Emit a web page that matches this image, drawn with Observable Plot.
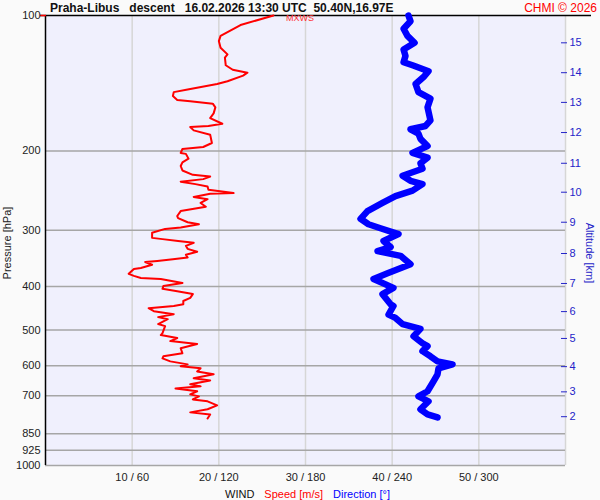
<!DOCTYPE html>
<html><head><meta charset="utf-8">
<script src="https://cdn.jsdelivr.net/npm/d3@7"></script>
<script src="https://cdn.jsdelivr.net/npm/@observablehq/plot@0.6"></script>
<style>
body{margin:0;background:#fafafa;font-family:Arial,"Liberation Sans",sans-serif;}
#wrap{position:relative;width:600px;height:500px;overflow:hidden;}
.t{position:absolute;white-space:pre;line-height:1;}
svg{position:absolute;left:0;top:0;}
</style></head><body><div id="wrap"></div>
<script>
const title = "Praha-Libus   descent   16.02.2026 13:30 UTC  50.40N,16.97E";
const credit = "CHMI © 2026";
const maxLabel = "MXWS";
const yLabel = "Pressure [hPa]";
const altLabel = "Altitude [km]";
const legendParts = ["WIND", "Speed [m/s]", "Direction [°]"];

const pressureTicks = [100,200,300,400,500,600,700,850,925,1000];
const speedTicks = [10,20,30,40,50];
const gridSpeeds = [10,20,30,40,50,60];
const dirPerSpeed = 6; // 60 m/s <-> 360 deg

const altKm = [2,3,4,5,6,7,8,9,10,11,12,13,14,15];
const altP  = [779,686,603,522,455,394,338,288,247,213,182,156,134,115];

const speedP = [100,105,111,114,118,122,124,129,132,134,136,140,142,146,148,151,154,155,157,160,165,169,174,176,177,180,184,192,196,198,202,203,208,212,216,221,226,228,231,234,237,240,244,248,249,253,256,261,266,272,279,282,288,291,296,298,304,312,314,317,320,325,330,335,340,345,348,351,353,358,364,366,375,379,383,385,393,399,405,410,416,424,431,438,442,447,454,461,468,473,485,490,508,513,521,529,537,549,563,572,578,587,596,602,608,618,627,640,647,660,667,674,684,695,702,713,720,735,750,762,770,786];
const speedV = [26.3,22.5,20.2,20.0,20.2,21.0,20.7,20.8,21.6,23.3,22.8,21.0,19.8,16.4,14.8,14.7,15.2,16.7,19.3,19.6,19.4,19.0,20.4,18.8,16.7,17.1,19.0,19.2,18.2,15.8,15.6,16.2,16.5,15.8,15.6,15.8,17.0,19.0,18.2,15.6,17.3,18.7,18.8,21.7,19.0,17.1,18.7,17.9,18.5,15.6,15.2,15.3,16.4,17.7,15.6,13.8,12.3,12.3,13.5,15.3,17.1,16.2,16.4,17.5,16.2,16.4,14.7,12.9,11.5,12.3,11.0,10.2,9.6,10.2,11.0,13.3,15.8,13.6,13.5,15.2,17.0,16.7,15.9,15.9,14.8,11.9,12.5,14.8,13.0,14.1,13.0,13.8,13.5,13.3,15.2,14.4,17.5,15.6,15.8,13.6,13.5,14.4,16.4,15.6,17.9,17.5,19.4,17.1,19.0,16.7,17.9,15.0,17.5,16.7,17.7,17.0,18.7,19.8,18.7,16.7,19.0,18.7];

const dirP = [100,103,107,111,115,119,123,127,129,133,137,142,148,153,160,171,176,179,183,188,195,202,207,213,219,227,233,237,245,252,261,272,283,291,297,306,317,327,334,342,357,374,385,403,416,438,442,462,470,485,497,516,535,543,557,572,587,596,608,627,650,684,702,720,750,770,782];
const dirV = [251.3,252.7,247.9,250.6,255.5,247.9,249.2,247.9,254.1,265.2,261.7,256.2,258.2,266.5,264.5,266.5,263.1,252.7,258.2,259.6,264.5,254.1,264.5,259.6,261.0,247.2,252.7,261.0,254.1,242.3,233.3,222.9,218.1,223.6,231.9,244.4,234.0,238.9,229.9,245.8,252.7,236.8,227.1,240.9,233.3,238.9,240.9,237.5,242.3,247.2,259.6,254.8,261.0,264.5,261.0,266.5,271.4,281.8,272.1,271.4,268.6,264.5,258.2,265.2,259.6,264.5,271.4];

const speedData = speedP.map((p,i)=>({p, v: speedV[i]}));
const dirData = dirP.map((p,i)=>({p, d: dirV[i]}));

const BLUE = "#0000ff", RED = "#ff0000", ALTC = "#2424c8";

const chart = Plot.plot({
  width: 600, height: 500,
  marginLeft: 45, marginRight: 35, marginTop: 15, marginBottom: 35,
  style: {fontFamily: "Arial, 'Liberation Sans', sans-serif", fontSize: "11px", background: "transparent", color: "#222"},
  x: {domain: [0, 60], axis: null},
  y: {type: "log", domain: [100, 1000], reverse: true, axis: null},
  marks: [
    Plot.frame({fill: "#f0f0fd", stroke: null}),
    Plot.ruleX(gridSpeeds, {stroke: "#d6d6d6", strokeWidth: 1.5}),
    Plot.ruleY(pressureTicks.slice(1), {stroke: "#a6a6a6", strokeWidth: 1.5}),
    Plot.ruleX([0], {stroke: "#000", strokeWidth: 1.5}),
    Plot.ruleY([100], {stroke: "#000", strokeWidth: 1.5, insetLeft: -5, insetRight: -26}),
    Plot.ruleY([100], {stroke: RED, strokeWidth: 1.5, insetLeft: -5, insetRight: 519}),
    Plot.line(dirData, {x: d => d.d / dirPerSpeed, y: "p", stroke: BLUE, strokeWidth: 6.5, strokeLinejoin: "round", strokeLinecap: "round"}),
    Plot.line(speedData, {x: "v", y: "p", stroke: RED, strokeWidth: 2}),
    Plot.axisY(pressureTicks, {anchor: "left", tickSize: 0, tickPadding: 5, label: null, fontSize: 11, fill: "#222", tickFormat: d => String(d)}),
    Plot.axisY(altP, {anchor: "right", tickSize: 6, tickPadding: 3, dx: -5, label: null, fontSize: 11, color: ALTC, stroke: ALTC, tickFormat: d => String(altKm[altP.indexOf(d)])}),
    Plot.axisX(speedTicks, {anchor: "bottom", tickSize: 0, tickPadding: 8, label: null, fontSize: 11, fill: "#222", tickFormat: d => `${d} / ${d * dirPerSpeed}`})
  ]
});
const wrap = document.getElementById("wrap");
wrap.appendChild(chart);

function addText(txt, css){
  const d = document.createElement("div");
  d.className = "t"; d.textContent = txt;
  Object.assign(d.style, css);
  wrap.appendChild(d);
  return d;
}
addText(title, {left: "50px", top: "2px", fontSize: "12px", fontWeight: "bold", color: "#111"});
addText(credit, {right: "3px", top: "2px", fontSize: "12px", color: RED});
addText(maxLabel, {left: "286px", top: "14px", fontSize: "9px", color: "#ff3333"});
addText(yLabel, {left: "7px", top: "243px", fontSize: "11px", color: "#222", transform: "translate(-50%,-50%) rotate(-90deg)"});
addText(altLabel, {left: "589px", top: "253px", fontSize: "11px", color: ALTC, transform: "translate(-50%,-50%) rotate(90deg)"});
const leg = document.createElement("div");
leg.className = "t";
Object.assign(leg.style, {left: "225px", top: "489px", fontSize: "11px"});
const colors = ["#111", RED, BLUE];
legendParts.forEach((p,i)=>{
  const s = document.createElement("span");
  s.textContent = p; s.style.color = colors[i];
  s.style.marginRight = i < 2 ? "10px" : "0";
  leg.appendChild(s);
});
wrap.appendChild(leg);
</script></body></html>
